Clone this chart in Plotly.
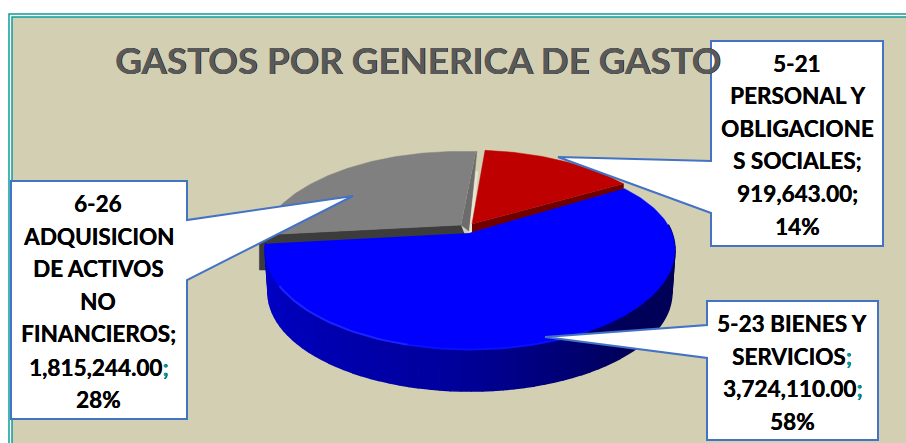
import numpy as np
import plotly.graph_objects as go

categories = ["5-21 PERSONAL Y OBLIGACIONES SOCIALES", "5-23 BIENES Y SERVICIOS", "6-26 ADQUISICION DE ACTIVOS NO FINANCIEROS"]
values = [919643.00, 3724110.00, 1815244.00]
percents = ["14%", "58%", "28%"]
title = "GASTOS POR GENERICA DE GASTO"
colors_top = ["#BE0000", "#0000FF", "#808080"]
colors_wall = ["#700000", "#0000A0", "#3C3C3C"]
TEAL = "#00A0A0"
SEMI = '<span style="color:%s">;</span>' % TEAL
label_lines = [
    ["5-21", "PERSONAL Y", "OBLIGACIONE", "S SOCIALES;", "919,643.00;", "14%"],
    ["5-23 BIENES Y", "SERVICIOS" + SEMI, "3,724,110.00" + SEMI, "58%"],
    ["6-26", "ADQUISICION", "DE ACTIVOS", "NO", "FINANCIEROS;", "1,815,244.00" + SEMI, "28%"],
]

W, H = 906, 443
START_DEG = 5.0
CX, CY, A, B, K = 470, 233, 97, 202, 0.17
DEPTH = 43
total = sum(values)
edges = [START_DEG]
for v in values:
    edges.append(edges[-1] + 360 * v / total)


def rim(deg, dx=0, dy=0, scale=1.0, drop=0.0):
    t = np.radians(np.asarray(deg, dtype=float))
    u, v = np.sin(t), np.cos(t)
    s = 1 / (1 + K * v)
    return CX + dx + scale * B * u * s, CY + dy + drop - scale * A * v * s


fig = go.Figure()


def poly(xs, ys, color, lw=0.5):
    fig.add_trace(go.Scatter(x=list(xs), y=list(ys), mode="lines", fill="toself", fillcolor=color,
                             line=dict(color=color, width=lw), hoverinfo="skip", showlegend=False))


def wall(a0, a1, color_fn, steps=70):
    grid = np.linspace(a0, a1, steps + 1)
    for i in range(steps):
        seg = np.linspace(grid[i], grid[i + 1], 3)
        x1, y1 = rim(seg)
        x2, y2 = rim(seg[::-1], scale=0.985, drop=DEPTH)
        poly(np.r_[x1, x2], np.r_[y1, y2], color_fn((i + 0.5) / steps), lw=1.5)


def lerp_blue(f):
    # f=0 at right side of the near rim, f=1 at left side
    stops = [(0.0, (0, 0, 85)), (0.3, (0, 0, 90)), (0.55, (0, 0, 155)), (1.0, (0, 0, 205))]
    for (a, ca), (b, cb) in zip(stops, stops[1:]):
        if f <= b:
            m = (f - a) / (b - a)
            c = [round(p + (q - p) * m) for p, q in zip(ca, cb)]
            return "rgb(%d,%d,%d)" % tuple(c)
    return "rgb(0,0,205)"


# Gray slice (rear-left)
G = dict(dx=-9, dy=0, scale=0.985)
gx_apex, gy_apex = CX + G["dx"], CY - 8
ga = np.linspace(edges[2] + 5, edges[3], 90)
gx, gy = rim(ga, **G)
wx0, wy0 = rim(edges[2] + 5, **G)
poly([gx_apex, wx0 - 2, wx0 - 2, wx0 + 5, gx_apex + 8], [gy_apex, wy0, wy0 + 35, wy0 + 35, gy_apex + 20], colors_wall[2])
ex, ey = rim(edges[3], **G)
poly([ex, ex + 1, gx_apex + 8, gx_apex], [ey, ey, gy_apex + 6, gy_apex], "#6C6C6C")
poly([ex, ex + 2, gx_apex + 11, gx_apex + 8], [ey + 20, ey + 20, gy_apex + 7, gy_apex + 7], "#E8E6D6")
poly(np.r_[gx_apex, gx], np.r_[gy_apex, gy], colors_top[2])

# Red slice (rear-right)
ra = np.linspace(edges[0], edges[1], 50)
rx, ry = rim(ra)
r_apex_x, r_apex_y = CX + 2, CY - 9
ex1, ey1 = rim(edges[1])
poly([r_apex_x, ex1, ex1, r_apex_x], [r_apex_y, ey1, ey1 + 12, r_apex_y + 14], colors_wall[0])
poly(np.r_[r_apex_x, rx], np.r_[r_apex_y, ry], colors_top[0])

# Blue slice (front) with shaded wall
wall(85, edges[2], lerp_blue)
ba = np.linspace(edges[1] + 0.5, edges[2], 160)
bx, by = rim(ba)
by = by + 8 * np.clip(np.cos(np.radians(ba)), 0, None)
poly(np.r_[CX, bx], np.r_[CY, by], colors_top[1])
# rim highlight
hl = np.linspace(195, 240, 30)
hx, hy = rim(hl, scale=0.997)
fig.add_trace(go.Scatter(x=hx, y=hy, mode="lines", line=dict(color="rgba(45,60,255,0.6)", width=2),
                         hoverinfo="skip", showlegend=False))
hl = np.linspace(150, 195, 30)
hx, hy = rim(hl, scale=0.997)
fig.add_trace(go.Scatter(x=hx, y=hy, mode="lines", line=dict(color="rgba(15,25,255,0.6)", width=2),
                         hoverinfo="skip", showlegend=False))

shapes = [
    dict(type="rect", x0=9, y0=14, x1=W + 5, y1=H + 5, line=dict(color="#0E9C9C", width=1.5), fillcolor="#FFFFFF"),
    dict(type="rect", x0=12, y0=17, x1=W + 5, y1=H + 5, line=dict(color="#0E9C9C", width=1.5), fillcolor="#D2CFB2"),
]
for s in shapes:
    s.update(layer="below", xref="x", yref="y")

BORDER = "#4472C4"


def callout(x0, y0, x1, y1, tip, side_y):
    if tip[0] < x0:
        p = [(x0, y0), (x1, y0), (x1, y1), (x0, y1), (x0, side_y[1]), tip, (x0, side_y[0])]
    else:
        p = [(x0, y0), (x1, y0), (x1, side_y[0]), tip, (x1, side_y[1]), (x1, y1), (x0, y1)]
    return dict(type="path", path="M " + " L ".join("%g,%g" % q for q in p) + " Z", xref="x", yref="y",
                fillcolor="#FFFFFF", line=dict(color=BORDER, width=2), layer="above")


shapes += [
    callout(711, 41, 883, 246, (558, 157), (161, 213)),
    callout(707, 301, 878, 440, (545, 337), (325, 358)),
    callout(11, 181, 187, 419, (353, 196), (220, 280)),
]

ann = [dict(x=418, y=60, text="<b>%s</b>" % title, showarrow=False, xref="x", yref="y", xanchor="center", yanchor="middle",
            font=dict(family="Lato", size=36.7, color="#595959", shadow="0.5px 0 0"))]
centers = [(797, [63, 95, 128, 160, 193, 226]), (792, [323, 356, 388, 421]), (98, [203, 236, 268, 301, 333, 367, 399])]
for (cx, ys), lines in zip(centers, label_lines):
    for y, t in zip(ys, lines):
        ann.append(dict(x=cx, y=y, text="<b>%s</b>" % t, showarrow=False, xref="x", yref="y", xanchor="center",
                        yanchor="middle", font=dict(family="Lato", size=22.5, color="#000000", shadow="0.3px 0 0")))

fig.update_layout(width=W, height=H, margin=dict(l=0, r=0, t=0, b=0), paper_bgcolor="#FFFFFF", plot_bgcolor="#FFFFFF",
                  showlegend=False, shapes=shapes, annotations=ann,
                  xaxis=dict(range=[0, W], visible=False, fixedrange=True),
                  yaxis=dict(range=[H, 0], visible=False, fixedrange=True))
fig.write_html("out.html", config={"displayModeBar": False},
               post_script="document.body.style.margin='0';document.body.style.overflow='hidden';")
